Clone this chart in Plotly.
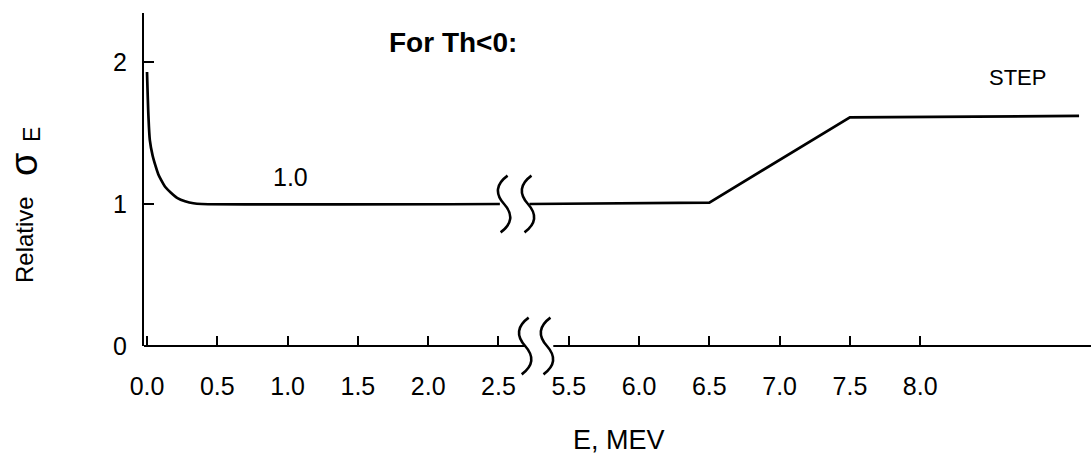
import plotly.graph_objects as go

# ---- data ----
# low-energy segment (E in MeV) and relative sigma_E
E_low = [0.0, 0.01, 0.02, 0.04, 0.06, 0.08, 0.10, 0.13, 0.17, 0.22, 0.27, 0.33, 0.39, 2.51]
S_low = [1.93, 1.62, 1.45, 1.34, 1.27, 1.21, 1.17, 1.12, 1.08, 1.04, 1.02, 1.005, 1.0, 1.0]
# high-energy segment
E_high = [5.22, 6.5, 7.5, 9.13]
S_high = [1.0, 1.01, 1.61, 1.62]

x_tick_E = [0.0, 0.5, 1.0, 1.5, 2.0, 2.5, 5.5, 6.0, 6.5, 7.0, 7.5, 8.0]
x_tick_labels = ["0.0", "0.5", "1.0", "1.5", "2.0", "2.5", "5.5", "6.0", "6.5", "7.0", "7.5", "8.0"]
y_tick_vals = [0, 1, 2]
y_tick_labels = ["0", "1", "2"]

# broken axis: 0-2.5 MeV then 5.5+ MeV, one tick step of gap
STEP = 0.5
BREAK_LO, BREAK_HI = 2.5, 5.5


def pos(e):
    if e <= (BREAK_LO + BREAK_HI) / 2:
        return e / STEP
    return (BREAK_LO / STEP) + 1 + (e - BREAK_HI) / STEP


FONT = "Liberation Sans, Arial, sans-serif"
BLACK = "#000000"

fig = go.Figure()
fig.add_trace(go.Scatter(
    x=[pos(e) for e in E_low], y=S_low, mode="lines",
    line=dict(color=BLACK, width=2.7, shape="spline", smoothing=0.7),
    showlegend=False, hoverinfo="skip"))
fig.add_trace(go.Scatter(
    x=[pos(e) for e in E_high], y=S_high, mode="lines",
    line=dict(color=BLACK, width=2.7, shape="linear"),
    showlegend=False, hoverinfo="skip"))

x_lo, x_hi = -0.043, 13.43
y_top = 2.345

shapes = []
# x-axis line with gap
gap_l, gap_r = 5.38, 5.78
shapes.append(dict(type="line", xref="x", yref="paper", x0=x_lo, x1=gap_l, y0=0, y1=0,
                   line=dict(color=BLACK, width=2.2)))
shapes.append(dict(type="line", xref="x", yref="paper", x0=gap_r, x1=x_hi, y0=0, y1=0,
                   line=dict(color=BLACK, width=2.2)))


def squiggle(cx, cy, w, h):
    return (f"M {cx + 0.45*w},{cy + h} "
            f"Q {cx - 1.8*w},{cy + 0.55*h} {cx},{cy} "
            f"Q {cx + 1.8*w},{cy - 0.55*h} {cx - 0.45*w},{cy - h}")


W, H = 0.11, 0.2
for cx in (5.08, 5.42):
    shapes.append(dict(type="path", xref="x", yref="y", path=squiggle(cx, 1.0, W, H),
                       line=dict(color=BLACK, width=2.6)))
for cx in (5.38, 5.69):
    shapes.append(dict(type="path", xref="x", yref="paper",
                       path=squiggle(cx, 0.0, W, H / y_top),
                       line=dict(color=BLACK, width=2.6)))

L, T, PW, PH = 144, 13, 947, 333


def px(xp):
    return (xp - L) / PW


def py(yp):
    return (T + PH - yp) / PH


def ptext(text, x, y, size, angle=0, bold=False):
    return dict(x=px(x), y=py(y), xref="paper", yref="paper",
                text=f"<b>{text}</b>" if bold else text, showarrow=False,
                textangle=angle, font=dict(size=size, family=FONT),
                xanchor="center", yanchor="middle")


fig.update_layout(
    width=1091, height=455,
    margin=dict(l=L, r=1091 - L - PW, t=T, b=455 - T - PH, autoexpand=False),
    paper_bgcolor="white", plot_bgcolor="white",
    font=dict(family=FONT, color=BLACK, size=22),
    shapes=shapes,
    xaxis=dict(range=[x_lo, x_hi], showgrid=False, zeroline=False, showline=False,
               tickmode="array", tickvals=[pos(e) for e in x_tick_E], ticktext=x_tick_labels,
               ticks="inside", ticklen=10, tickwidth=2, tickcolor=BLACK,
               tickfont=dict(size=25, family=FONT), ticklabelstandoff=23),
    yaxis=dict(range=[0, y_top], showgrid=False, zeroline=False, showline=True,
               linecolor=BLACK, linewidth=2.2,
               tickmode="array", tickvals=y_tick_vals, ticktext=y_tick_labels,
               ticks="inside", ticklen=10, tickwidth=2, tickcolor=BLACK,
               tickfont=dict(size=25, family=FONT), ticklabelstandoff=10),
    annotations=[
        dict(x=pos(1.02), y=1.19, xref="x", yref="y", text="1.0", showarrow=False,
             font=dict(size=25, family=FONT), yanchor="middle"),
        dict(x=pos(8.69), y=1.89, xref="x", yref="y", text="STEP", showarrow=False,
             font=dict(size=22, family=FONT), yanchor="middle"),
        ptext("For Th<0:", 453, 43, 28, bold=True),
        ptext("E, MEV", 619, 440, 27),
        ptext("Relative", 24, 240, 24, angle=-90),
        ptext("σ", 24, 165, 38, angle=-90),
        ptext("E", 32, 135, 23, angle=-90),
    ],
)

fig.write_html("out.html", config={"displayModeBar": False})
with open("out.html", encoding="utf-8") as f:
    html = f.read()
html = html.replace("<head>", "<head><style>html,body{margin:0;padding:0;}</style>", 1)
with open("out.html", "w", encoding="utf-8") as f:
    f.write(html)
